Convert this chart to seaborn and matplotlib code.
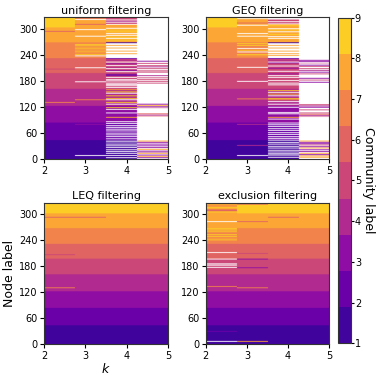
import numpy as np
import matplotlib
matplotlib.use('Agg')
import matplotlib.pyplot as plt
from matplotlib.colors import ListedColormap, Normalize
import seaborn as sns

k_values = [2, 3, 4, 5]
community_labels = [1, 2, 3, 4, 5, 6, 7, 8, 9]
community_sizes = [43, 40, 38, 39, 36, 34, 36, 34, 26]
y_ticks = [0, 60, 120, 180, 240, 300]
panel_titles = ['uniform filtering', 'GEQ filtering', 'LEQ filtering', 'exclusion filtering']

# re-assigned nodes per k: (first node, last node + 1, community label), 0 = unassigned
uniform_k2 = [(290, 292, 6), (204, 206, 5), (128, 130, 7)]
uniform_k3 = [(300, 326, 8), (323, 325, 6), (320, 322, 6), (317, 319, 0), (306, 308, 6),
              (294, 296, 0), (279, 281, 0), (260, 262, 9), (257, 259, 9), (253, 255, 8),
              (250, 252, 9), (245, 247, 9), (241, 243, 8), (237, 239, 9), (234, 236, 0),
              (207, 209, 0), (175, 177, 0), (134, 136, 7), (78, 80, 3), (7, 9, 0)]
uniform_k4 = [(196, 230, 5), (230, 265, 0), (300, 326, 5),
              (2, 4, 0), (7, 9, 0), (12, 14, 0), (16, 18, 0), (20, 22, 0), (25, 27, 0),
              (29, 31, 0), (33, 35, 0), (38, 40, 0), (41, 42, 0),
              (45, 47, 0), (50, 52, 0), (54, 56, 0), (58, 60, 0), (63, 65, 0), (67, 69, 0),
              (71, 73, 0), (75, 77, 0), (80, 82, 0),
              (84, 86, 0), (94, 96, 8), (104, 106, 0), (112, 114, 0), (116, 118, 9),
              (124, 126, 0), (128, 130, 9), (134, 136, 0), (137, 139, 9), (143, 145, 9),
              (149, 151, 0), (152, 154, 9), (157, 159, 8),
              (162, 164, 0), (166, 168, 0), (169, 171, 0), (172, 174, 0), (177, 179, 0),
              (180, 182, 0), (185, 187, 0), (189, 191, 2), (192, 194, 2),
              (198, 200, 0), (201, 203, 3), (205, 207, 0), (208, 210, 4), (212, 214, 0),
              (216, 218, 3), (220, 222, 0), (224, 226, 4), (228, 230, 2),
              (239, 241, 8), (245, 247, 8), (252, 254, 8), (258, 260, 8), (264, 266, 1),
              (270, 272, 9), (274, 276, 0), (277, 279, 9), (281, 283, 0), (285, 287, 0),
              (289, 291, 9), (293, 295, 9), (297, 299, 0),
              (300, 306, 8), (306, 308, 0), (311, 313, 0), (313, 315, 4), (316, 318, 0),
              (322, 324, 0), (324, 325, 4)]
uniform_k5 = [(0, 326, 0),
              (222, 224, 3), (217, 219, 5), (212, 214, 5), (209, 211, 4), (205, 207, 5),
              (200, 202, 5), (197, 199, 5), (189, 191, 4), (184, 186, 5), (180, 182, 5),
              (176, 178, 5), (172, 174, 5),
              (124, 126, 3), (121, 123, 8), (118, 120, 3), (116, 117, 5), (102, 104, 6),
              (99, 101, 4), (97, 98, 6),
              (40, 42, 8), (37, 39, 3), (33, 35, 3), (29, 31, 3), (25, 27, 3), (21, 23, 8),
              (17, 19, 3), (15, 16, 3), (12, 14, 8), (8, 10, 3), (5, 7, 8), (2, 4, 3)]

geq_k2 = []
geq_k3 = [(300, 326, 8), (322, 324, 0), (319, 321, 0), (309, 311, 6), (304, 306, 0),
          (285, 287, 0), (279, 281, 0), (262, 264, 9), (258, 260, 9), (251, 253, 0),
          (247, 249, 9), (243, 245, 0), (237, 239, 9), (234, 236, 8), (208, 210, 0),
          (176, 178, 0), (136, 138, 7), (78, 80, 4), (30, 32, 4), (7, 9, 0)]
geq_k4 = [(196, 230, 5), (230, 265, 0), (300, 326, 5),
          (3, 5, 0), (8, 10, 0), (11, 13, 0), (15, 17, 0), (19, 21, 0), (24, 26, 0),
          (28, 30, 0), (33, 35, 0), (37, 39, 0), (42, 44, 0),
          (46, 48, 0), (50, 52, 0), (55, 57, 0), (59, 61, 0), (64, 66, 0), (68, 70, 0),
          (73, 75, 0), (77, 79, 0), (81, 83, 0),
          (90, 92, 0), (94, 96, 8), (102, 104, 0), (105, 107, 0), (117, 119, 0),
          (124, 126, 0), (130, 132, 0), (134, 136, 8), (137, 139, 9), (143, 145, 0),
          (147, 149, 9), (151, 153, 0), (155, 157, 9),
          (168, 170, 0), (172, 174, 0), (178, 180, 0), (185, 187, 0), (189, 191, 0),
          (193, 195, 3),
          (199, 201, 0), (203, 205, 5), (206, 208, 3), (211, 213, 0), (214, 216, 5),
          (218, 220, 3), (220, 222, 0), (223, 225, 4), (228, 230, 2),
          (235, 237, 8), (239, 241, 8), (245, 247, 8), (252, 254, 8), (258, 260, 8),
          (264, 266, 1),
          (270, 272, 8), (274, 276, 0), (278, 280, 0), (283, 285, 9), (289, 291, 0),
          (293, 295, 9), (296, 298, 0),
          (300, 307, 8), (303, 305, 9), (307, 309, 0), (312, 314, 0), (318, 322, 0),
          (324, 326, 4)]
geq_k5 = [(0, 326, 0),
          (224, 226, 3), (221, 223, 3), (218, 219, 5), (213, 215, 3), (210, 212, 5),
          (205, 207, 5), (201, 203, 4), (197, 199, 3), (193, 195, 5), (183, 185, 3),
          (179, 181, 5), (174, 176, 3),
          (123, 125, 5), (120, 122, 4), (117, 119, 3), (111, 113, 5), (104, 106, 5),
          (101, 103, 6), (98, 100, 4), (96, 97, 5),
          (40, 42, 8), (37, 39, 3), (34, 36, 3), (31, 33, 5), (27, 29, 3), (24, 26, 8),
          (20, 22, 3), (16, 18, 3), (12, 14, 8), (9, 11, 3), (6, 8, 8), (3, 5, 8)]

leq_k2 = [(290, 292, 6), (204, 206, 5), (128, 130, 7)]
leq_k3 = [(290, 292, 6)]
leq_k4 = []
leq_k5 = []

excl_k2 = [(300, 326, 8), (322, 324, 0), (316, 318, 7), (312, 314, 9), (305, 309, 6),
           (302, 304, 9), (280, 282, 0), (264, 266, 9), (261, 263, 9), (258, 260, 9),
           (256, 257, 8), (250, 252, 9), (246, 248, 9), (242, 244, 8), (238, 240, 9),
           (209, 211, 0), (194, 196, 0), (183, 185, 0), (180, 182, 0), (175, 177, 0),
           (131, 133, 7), (28, 30, 2), (5, 7, 0)]
excl_k3 = [(320, 322, 6), (280, 282, 6), (207, 209, 5), (194, 196, 3), (174, 176, 3),
           (128, 130, 7), (5, 7, 8)]
excl_k4 = [(290, 292, 6)]
excl_k5 = []

panels = [
    [uniform_k2, uniform_k3, uniform_k4, uniform_k5],
    [geq_k2, geq_k3, geq_k4, geq_k5],
    [leq_k2, leq_k3, leq_k4, leq_k5],
    [excl_k2, excl_k3, excl_k4, excl_k5],
]


def build_assignments(spans_per_k):
    base = np.repeat(community_labels, community_sizes).astype(float)
    mat = np.tile(base[:, None], (1, len(k_values)))
    for j, spans in enumerate(spans_per_k):
        for start, stop, label in spans:
            mat[start:stop, j] = label
    mat[mat == 0] = np.nan
    return mat


sns.set_style('ticks')
plt.rcParams.update({
    'font.family': ['DejaVu Sans'],
    'axes.edgecolor': '0.2',
    'axes.linewidth': 0.8,
    'xtick.labelsize': 7,
    'ytick.labelsize': 7,
    'xtick.major.size': 3,
    'ytick.major.size': 3,
    'xtick.major.pad': 1.5,
    'ytick.major.pad': 1.5,
    'xtick.color': 'black',
    'ytick.color': 'black',
    'text.color': 'black',
    'axes.labelcolor': 'black',
})

cmap = ListedColormap(sns.color_palette('plasma', len(community_labels)))
cmap.set_bad('white')  # unassigned nodes
norm = Normalize(vmin=community_labels[0], vmax=community_labels[-1])
n_nodes = sum(community_sizes)

fig = plt.figure(figsize=(3.82, 3.79), dpi=100)
positions = [
    [0.1152, 0.5792, 0.3246, 0.3747],
    [0.5385, 0.5792, 0.3236, 0.3747],
    [0.1152, 0.0916, 0.3246, 0.3736],
    [0.5385, 0.0916, 0.3236, 0.3736],
]

for pos, title, spans in zip(positions, panel_titles, panels):
    ax = fig.add_axes(pos)
    mat = build_assignments(spans)
    # widen each k column so the image is smoothed only along the node axis
    img = np.repeat(mat, 100, axis=1)
    im = ax.imshow(img, origin='lower', aspect='auto', cmap=cmap, norm=norm,
                   extent=[k_values[0], k_values[-1], 0, n_nodes],
                   interpolation='hanning', interpolation_stage='rgba')
    ax.set_title(title, fontsize=8, pad=2.5)
    ax.set_xticks(k_values)
    ax.set_yticks(y_ticks)
    ax.set_xlim(k_values[0], k_values[-1])
    ax.set_ylim(0, n_nodes)
    if title == 'LEQ filtering':
        ax.set_ylabel('Node label', fontsize=9, labelpad=2)
        ax.set_xlabel('$k$', fontsize=9, labelpad=1)

cax = fig.add_axes([0.884, 0.0942, 0.034, 0.8591])
cb = fig.colorbar(im, cax=cax, ticks=community_labels)
cb.ax.tick_params(labelsize=7, length=2, pad=1)
cb.outline.set_linewidth(0.8)
cb.set_label('Community label', fontsize=9, rotation=270, labelpad=10)

plt.savefig('out.png', dpi=100)
